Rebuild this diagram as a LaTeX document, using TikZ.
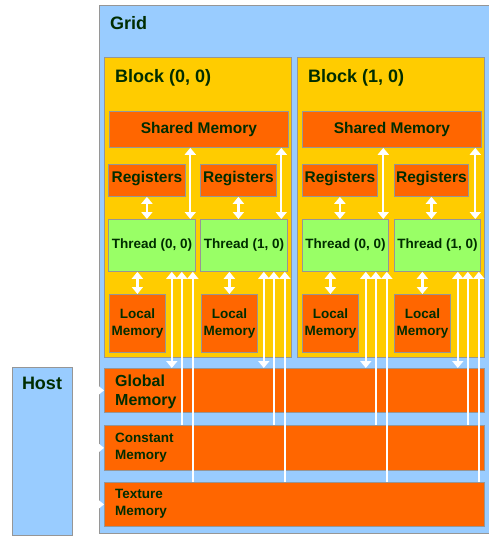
\documentclass[tikz,border=0pt]{standalone}
\usepackage{fontspec}
\setmainfont{Liberation Sans}
\usetikzlibrary{calc}
\usetikzlibrary{arrows.meta}

\definecolor{gridblue}{RGB}{153,204,255}
\definecolor{blockyellow}{RGB}{255,204,0}
\definecolor{memorange}{RGB}{255,102,0}
\definecolor{threadgreen}{RGB}{153,255,102}
\definecolor{edgegray}{RGB}{150,150,150}
\definecolor{textgreen}{RGB}{0,45,0}

\tikzset{
    panel/.style = {draw = edgegray, line width = 0.8pt, inner sep = 0pt, anchor = north west,
                    text = textgreen, align = center},
    title/.style = {text = textgreen, inner sep = 0pt, font = \fontsize{18}{22}\selectfont\bfseries},
    memtext/.style = {text = textgreen, inner sep = 0pt, align = left, anchor = west},
    arr/.style = {draw = white, line width = 2.2pt, -{Triangle[width = 11pt, length = 7pt]}},
    dblarr/.style = {draw = white, line width = 2.2pt,
                     {Triangle[width = 11pt, length = 7pt]}-{Triangle[width = 11pt, length = 7pt]}},
}

\begin{document}
\begin{tikzpicture}[x = 1pt, y = -1pt]
            \useasboundingbox (0, 0) rectangle (489, 536);

            % grid, blocks and the memories below
            \node [panel, fill = gridblue, minimum width = 393pt, minimum height = 528pt] (grid) at (99, 5) {};
            \node [panel, fill = blockyellow, minimum width = 187pt, minimum height = 300pt] (block0) at (104, 57) {};
            \node [panel, fill = blockyellow, minimum width = 187pt, minimum height = 300pt] (block1) at (297, 57) {};
            \node [panel, fill = memorange, minimum width = 380pt, minimum height = 44pt] (global) at (104, 368) {};
            \node [panel, fill = memorange, minimum width = 380pt, minimum height = 45pt] (constant) at (104, 425) {};
            \node [panel, fill = memorange, minimum width = 380pt, minimum height = 44pt] (texture) at (104, 482) {};
            \node [panel, fill = gridblue, minimum width = 60pt, minimum height = 168pt] (host) at (12, 367) {};

            \node [title, anchor = base west] (gridtxt) at (110, 29) {Grid};
            \node [title, anchor = base west] (block0txt) at (115, 82) {Block (0, 0)};
            \node [title, anchor = base west] (block1txt) at (308, 82) {Block (1, 0)};
            \node [title, anchor = base] (hosttxt) at (42, 389) {Host};

            \node [memtext, font = \fontsize{16}{19.5}\selectfont\bfseries] (globaltxt) at (115, 392) {Global\\Memory};
            \node [memtext, font = \fontsize{13.5}{17}\selectfont\bfseries] (constanttxt) at (115, 448) {Constant\\Memory};
            \node [memtext, font = \fontsize{13.5}{16.5}\selectfont\bfseries] (texturetxt) at (115, 504) {Texture\\Memory};

            % block (0, 0)
            \node [panel, fill = memorange, minimum width = 179pt, minimum height = 36pt,
                   font = \fontsize{15.5}{18}\selectfont\bfseries] (shared0) at (109, 111) {Shared Memory};
            \node [panel, fill = memorange, minimum width = 77pt, minimum height = 32pt, text depth = 7pt,
                   font = \fontsize{15.5}{18}\selectfont\bfseries] (reg00) at (108, 164) {Registers};
            \node [panel, fill = memorange, minimum width = 76pt, minimum height = 32pt, text depth = 7pt,
                   font = \fontsize{15.5}{18}\selectfont\bfseries] (reg01) at (200, 164) {Registers};
            \node [panel, fill = threadgreen, minimum width = 87pt, minimum height = 52pt,
                   font = \fontsize{13.5}{16}\selectfont\bfseries] (thr00) at (108, 219) {Thread (0, 0)};
            \node [panel, fill = threadgreen, minimum width = 87pt, minimum height = 52pt,
                   font = \fontsize{13.5}{16}\selectfont\bfseries] (thr01) at (200, 219) {Thread (1, 0)};
            \node [panel, fill = memorange, minimum width = 56pt, minimum height = 58pt,
                   font = \fontsize{13.5}{17}\selectfont\bfseries] (loc00) at (109, 294) {Local\\Memory};
            \node [panel, fill = memorange, minimum width = 56pt, minimum height = 58pt,
                   font = \fontsize{13.5}{17}\selectfont\bfseries] (loc01) at (201, 294) {Local\\Memory};

            % block (1, 0)
            \node [panel, fill = memorange, minimum width = 179pt, minimum height = 36pt,
                   font = \fontsize{15.5}{18}\selectfont\bfseries] (shared1) at (302, 111) {Shared Memory};
            \node [panel, fill = memorange, minimum width = 75pt, minimum height = 32pt, text depth = 7pt,
                   font = \fontsize{15.5}{18}\selectfont\bfseries] (reg10) at (302, 164) {Registers};
            \node [panel, fill = memorange, minimum width = 74pt, minimum height = 32pt, text depth = 7pt,
                   font = \fontsize{15.5}{18}\selectfont\bfseries] (reg11) at (394, 164) {Registers};
            \node [panel, fill = threadgreen, minimum width = 86pt, minimum height = 52pt,
                   font = \fontsize{13.5}{16}\selectfont\bfseries] (thr10) at (302, 219) {Thread (0, 0)};
            \node [panel, fill = threadgreen, minimum width = 86pt, minimum height = 52pt,
                   font = \fontsize{13.5}{16}\selectfont\bfseries] (thr11) at (394, 219) {Thread (1, 0)};
            \node [panel, fill = memorange, minimum width = 56pt, minimum height = 58pt,
                   font = \fontsize{13.5}{17}\selectfont\bfseries] (loc10) at (302, 294) {Local\\Memory};
            \node [panel, fill = memorange, minimum width = 56pt, minimum height = 58pt,
                   font = \fontsize{13.5}{17}\selectfont\bfseries] (loc11) at (394, 294) {Local\\Memory};

            % registers <-> thread <-> local memory
            \draw [dblarr] (reg00.south) -- (reg00.south |- thr00.north);
            \draw [dblarr] (reg01.south) -- (reg01.south |- thr01.north);
            \draw [dblarr] (reg10.south) -- (reg10.south |- thr10.north);
            \draw [dblarr] (reg11.south) -- (reg11.south |- thr11.north);

            \draw [dblarr] (loc00.north |- thr00.south) -- (loc00.north);
            \draw [dblarr] (loc01.north |- thr01.south) -- (loc01.north);
            \draw [dblarr] (loc10.north |- thr10.south) -- (loc10.north);
            \draw [dblarr] (loc11.north |- thr11.south) -- (loc11.north);

            % shared memory <-> thread
            \coordinate (s00) at ($(thr00.north east) + (-5.5, 0)$);
            \coordinate (s01) at ($(thr01.north east) + (-6.5, 0)$);
            \coordinate (s10) at ($(thr10.north east) + (-5.5, 0)$);
            \coordinate (s11) at ($(thr11.north east) + (-5.5, 0)$);
            \draw [dblarr] (s00) -- (s00 |- shared0.south);
            \draw [dblarr] (s01) -- (s01 |- shared0.south);
            \draw [dblarr] (s10) -- (s10 |- shared1.south);
            \draw [dblarr] (s11) -- (s11 |- shared1.south);

            % thread <-> global, constant and texture memory
            \coordinate (g00) at ($(thr00.south east) + (-24, 0)$);
            \coordinate (c00) at ($(thr00.south east) + (-14, 0)$);
            \coordinate (t00) at ($(thr00.south east) + (-3, 0)$);
            \coordinate (g01) at ($(thr01.south east) + (-24, 0)$);
            \coordinate (c01) at ($(thr01.south east) + (-14, 0)$);
            \coordinate (t01) at ($(thr01.south east) + (-3, 0)$);
            \coordinate (g10) at ($(thr10.south east) + (-23, 0)$);
            \coordinate (c10) at ($(thr10.south east) + (-13, 0)$);
            \coordinate (t10) at ($(thr10.south east) + (-2, 0)$);
            \coordinate (g11) at ($(thr11.south east) + (-23, 0)$);
            \coordinate (c11) at ($(thr11.south east) + (-13, 0)$);
            \coordinate (t11) at ($(thr11.south east) + (-2, 0)$);

            \draw [dblarr] (g00) -- (g00 |- global.north);
            \draw [arr] (c00 |- constant.north) -- (c00);
            \draw [arr] (t00 |- texture.north) -- (t00);
            \draw [dblarr] (g01) -- (g01 |- global.north);
            \draw [arr] (c01 |- constant.north) -- (c01);
            \draw [arr] (t01 |- texture.north) -- (t01);
            \draw [dblarr] (g10) -- (g10 |- global.north);
            \draw [arr] (c10 |- constant.north) -- (c10);
            \draw [arr] (t10 |- texture.north) -- (t10);
            \draw [dblarr] (g11) -- (g11 |- global.north);
            \draw [arr] (c11 |- constant.north) -- (c11);
            \draw [arr] (t11 |- texture.north) -- (t11);

            % host -> memories
            \draw [arr] (host.east |- global.west) -- (global.west);
            \draw [arr] (host.east |- constant.west) -- (constant.west);
            \draw [arr] (host.east |- texture.west) -- (texture.west);
        \end{tikzpicture}
\end{document}
